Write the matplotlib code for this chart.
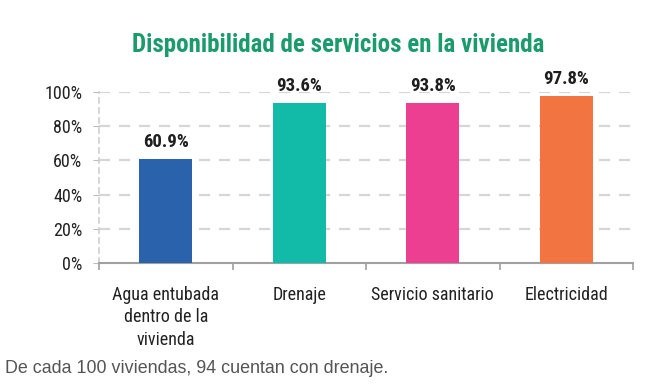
import matplotlib
matplotlib.use("Agg")
import matplotlib.pyplot as plt

categorias = ["Agua entubada\ndentro de la\nvivienda", "Drenaje", "Servicio sanitario", "Electricidad"]
valores = [60.9, 93.6, 93.8, 97.8]
colores = ["#2B62AC", "#12BBA8", "#EC3F92", "#F27541"]
yticks = [0, 20, 40, 60, 80, 100]

plt.rcParams["font.family"] = ["Roboto Condensed", "DejaVu Sans"]

fig = plt.figure(figsize=(6.5, 3.84), dpi=100)
ax = fig.add_axes([99/650, 1-263/384, (633-99)/650, 171/384])

x = range(len(valores))
bars = ax.bar(x, valores, width=0.40, color=colores, zorder=3)
for b, v in zip(bars, valores):
    ax.annotate(f"{v:.1f}%", (b.get_x() + b.get_width()/2, v), xytext=(0, 8.5),
                textcoords="offset points", ha="center", va="baseline",
                fontsize=13.5, fontweight="bold", color="#1E1E1E", annotation_clip=False)

ax.set_xlim(-0.5, len(valores) - 0.5)
ax.set_ylim(0, 100)
ax.set_yticks(yticks)
ax.set_yticklabels([f"{t}%" for t in yticks], fontsize=13, color="#222222")
ax.set_xticks(list(x))
ax.set_xticklabels(categorias, fontsize=13, color="#222222", va="top", linespacing=1.32)
ax.tick_params(axis="x", length=0, pad=16.5)
ax.tick_params(axis="y", length=4, color="#BBBBBB", pad=8)
# marcas entre categorias
ax.set_xticks([i - 0.5 for i in range(len(valores) + 1)], minor=True)
ax.tick_params(axis="x", which="minor", length=5, color="#A0A0A0", width=1.2)

for t in yticks[1:]:
    ax.axhline(t, color="#D6D6D6", lw=1.6, ls=(0, (5, 4)), zorder=1)

for s in ["top", "right"]:
    ax.spines[s].set_visible(False)
ax.spines["left"].set_color("#CFCFCF")
ax.spines["left"].set_linestyle((0, (3, 3)))
ax.spines["left"].set_linewidth(1.2)
ax.spines["bottom"].set_color("#A0A0A0")
ax.spines["bottom"].set_linewidth(1.5)

fig.text(338/650, 1-45/384, "Disponibilidad de servicios en la vivienda", ha="center", va="center",
         fontsize=18, fontweight="bold", color="#1B9B6B")
fig.text(5/650, 1-373/384, "De cada 100 viviendas, 94 cuentan con drenaje.", ha="left", va="baseline",
         fontsize=12.9, color="#555555", family=["Liberation Sans", "DejaVu Sans"])

fig.savefig("out.png", dpi=100)
